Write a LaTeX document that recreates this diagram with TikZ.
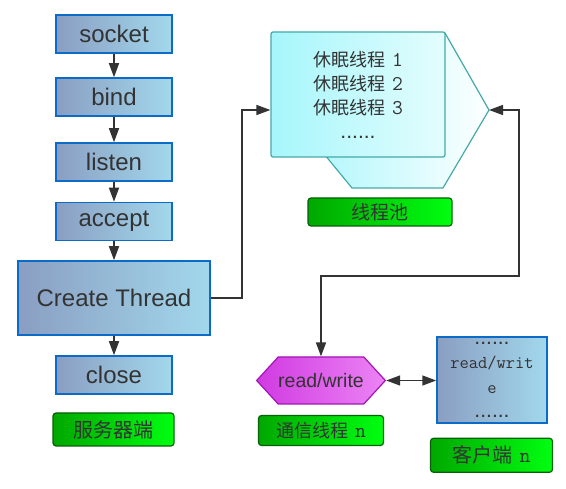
\documentclass[tikz,border=0pt]{standalone}
\usepackage{fontspec}
\setmainfont{Liberation Sans}
\newfontfamily\cjk{Noto Sans CJK SC}
\usetikzlibrary{arrows.meta}
\usetikzlibrary{shapes.symbols}
\definecolor{boxl}{HTML}{8A9EC2}
\definecolor{boxr}{HTML}{A2D8EC}
\definecolor{boxline}{HTML}{0B6BC6}
\definecolor{greenl}{HTML}{00A800}
\definecolor{greenr}{HTML}{00FF10}
\definecolor{greenline}{HTML}{086008}
\definecolor{pooll}{HTML}{A6F6FB}
\definecolor{poolr}{HTML}{E4FDFE}
\definecolor{poolline}{HTML}{46A9A9}
\definecolor{rwl}{HTML}{D03AE2}
\definecolor{rwr}{HTML}{EC84F4}
\definecolor{rwline}{HTML}{A414B4}
\definecolor{ink}{HTML}{333333}
\newcommand{\moredots}{{\rmfamily\fontsize{21}{24}\selectfont ......}}
\newcommand{\num}[1]{\hspace{7pt}{\ttfamily\fontsize{21}{24}\selectfont #1}}
\tikzset{
  box/.style={draw=boxline, line width=1.5pt, left color=boxl, right color=boxr,
    text=ink, inner sep=0pt, minimum width=116pt, minimum height=38pt,
    font=\fontsize{24}{28}\selectfont},
  tag/.style={draw=greenline, line width=1.2pt, rounded corners=3pt,
    left color=greenl, right color=greenr, text=ink, inner sep=0pt},
  conn/.style={draw=ink, line width=1.5pt, arrows={-Triangle[length=14pt,width=10pt]}},
  twoway/.style={conn, arrows={Triangle[length=14pt,width=10pt]-Triangle[length=14pt,width=10pt]}},
}

\begin{document}
\begin{tikzpicture}[x=1pt,y=-1pt]
  \useasboundingbox (0,0) rectangle (566,489);

  % server side
  \foreach \n/\y in {socket/34,bind/97,listen/162,accept/221.5} {
    \node[box] (\n) at (114,\y) {\n};
  }
  \node[box, minimum width=192pt, minimum height=74pt] (create) at (114,298) {Create Thread};
  \node[box] (close) at (114,375) {close};
  \node[tag, minimum width=121pt, minimum height=33pt, font=\cjk\fontsize{20}{24}\selectfont]
    (server) at (113.5,429.5) {服务器端};
  \foreach \a/\b in {socket/bind,bind/listen,listen/accept,accept/create,create/close} {
    \draw[conn] (\a) -- (\b);
  }

  % thread pool
  \draw[draw=poolline, line width=1.2pt, left color=pooll, right color=white!95!poolr]
    (288,110) -- (352,33) -- (445,33) -- (489,110) -- (443,188) -- (352,188) -- cycle;
  \coordinate (pooltip) at (489,110);
  \node[draw=poolline, line width=1.2pt, rounded corners=2pt, left color=pooll, right color=poolr,
    minimum width=174pt, minimum height=125pt, inner sep=0pt, text=ink, align=center,
    font=\cjk\fontsize{18}{24}\selectfont] (pool) at (358,94.5)
    {休眠线程\num{1}\\休眠线程\num{2}\\休眠线程\num{3}\\\moredots};
  \node[tag, minimum width=144pt, minimum height=28pt, font=\cjk\fontsize{19}{22}\selectfont]
    (poollabel) at (380,212) {线程池};

  % worker and client
  \node[signal, signal to=west and east, signal pointer angle=95, draw=rwline, line width=1.2pt,
    left color=rwl, right color=rwr, text=ink, minimum width=120pt, minimum height=47pt,
    inner sep=0pt, font=\fontsize{19.5}{22}\selectfont] (rw) at (321,380.5) {read/write};
  \node[tag, minimum width=125pt, minimum height=30pt, font=\cjk\fontsize{18}{22}\selectfont]
    (rwlabel) at (321,430.5) {通信线程\num{n}};
  \node[box, minimum width=110pt, minimum height=86pt, align=center,
    font=\ttfamily\fontsize{18}{24.5}\selectfont] (client) at (492,380)
    {\moredots\\read/writ\\e\\\moredots};
  \node[tag, minimum width=122pt, minimum height=34pt, font=\cjk\fontsize{20}{24}\selectfont]
    (clientlabel) at (491.5,455.3) {客户端\num{n}};

  \draw[conn] (create.east) -- ++(31,0) |- (pool.west |- pooltip);
  \draw[twoway] (pooltip) -- ++(30,0) -- ++(0,166) -| (rw.north);
  \draw[twoway] (rw.east) -- (client.west |- rw.east);
\end{tikzpicture}
\end{document}
